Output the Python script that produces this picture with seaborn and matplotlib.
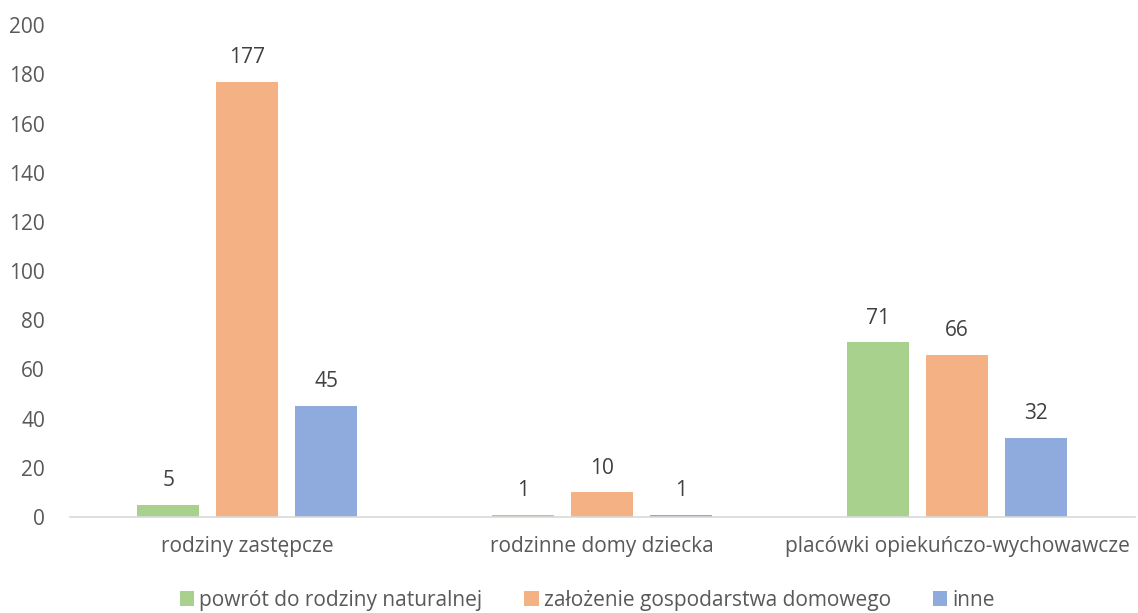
import pandas as pd
import matplotlib
matplotlib.use('Agg')
import matplotlib.pyplot as plt
import seaborn as sns

# --- Data ---
categories = ["rodziny zastępcze", "rodzinne domy dziecka", "placówki opiekuńczo-wychowawcze"]
series = ["powrót do rodziny naturalnej", "założenie gospodarstwa domowego", "inne"]
values = {
    "powrót do rodziny naturalnej": [5, 1, 71],
    "założenie gospodarstwa domowego": [177, 10, 66],
    "inne": [45, 1, 32],
}
colors = ["#A9D18E", "#F4B183", "#8FAADC"]

rows = []
for s in series:
    for c, v in zip(categories, values[s]):
        rows.append({"kategoria": c, "seria": s, "wartosc": v})
df = pd.DataFrame(rows)

# --- Plot ---
sns.set_theme(style="white")
plt.rcParams["font.family"] = ["Open Sans", "DejaVu Sans"]
text_color = "#595959"
fs = 15

fig = plt.figure(figsize=(11.38, 6.13), dpi=100)
ax = fig.add_axes([0.0615, 0.1566, 0.9355, 0.8024])

sns.barplot(data=df, x="kategoria", y="wartosc", hue="seria", order=categories,
            hue_order=series, palette=colors, width=0.668, gap=0.215,
            saturation=1, linewidth=0, ax=ax, legend=True)

for cont in ax.containers:
    ax.bar_label(cont, padding=10, fontsize=fs, color="#404040")

ax.set_ylim(0, 200)
ax.set_xlim(-0.5, 2.5)
ax.set_yticks(range(0, 201, 20))
ax.set_xlabel("")
ax.set_ylabel("")
ax.tick_params(axis="both", length=0, labelsize=fs, colors=text_color)
ax.tick_params(axis="y", pad=18)
ax.tick_params(axis="x", pad=14)
for side in ["top", "right", "left"]:
    ax.spines[side].set_visible(False)
ax.spines["bottom"].set_color("#D9D9D9")
ax.spines["bottom"].set_linewidth(1.2)

leg = ax.legend(loc="upper center", bbox_to_anchor=(0.486, -0.131), ncol=3,
                frameon=False, fontsize=fs, handlelength=0.7, handleheight=0.7,
                handletextpad=0.25, columnspacing=2.0, borderaxespad=0)
for t in leg.get_texts():
    t.set_color(text_color)

fig.savefig("out.png", dpi=100)
